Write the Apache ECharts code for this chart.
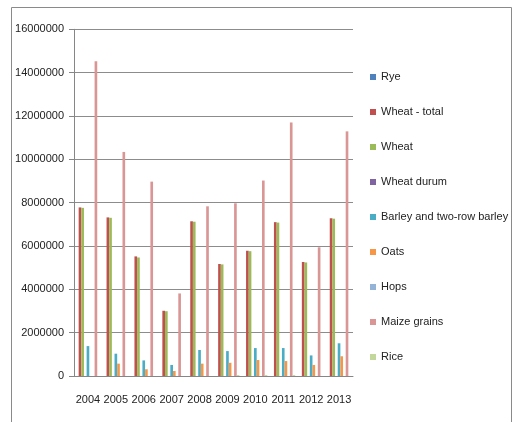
<!DOCTYPE html>
<html>
<head>
<meta charset="utf-8">
<script src="https://cdn.jsdelivr.net/npm/echarts@6/dist/echarts.min.js"></script>
<style>
html,body{margin:0;padding:0;background:#fff;}
#c{width:513px;height:422px;}
</style>
</head>
<body>
<div id="c"></div>
<script>
var years = ['2004','2005','2006','2007','2008','2009','2010','2011','2012','2013'];
var yTicks = [0,2000000,4000000,6000000,8000000,10000000,12000000,14000000,16000000];
var seriesNames = ['Rye','Wheat - total','Wheat','Wheat durum','Barley and two-row barley','Oats','Hops','Maize grains','Rice'];
var rye        = [0,0,0,0,0,0,0,0,0,0];
var wheatTotal = [7780000,7320000,5520000,3010000,7140000,5170000,5780000,7100000,5260000,7280000];
var wheat      = [7760000,7300000,5470000,2990000,7120000,5150000,5760000,7080000,5240000,7260000];
var wheatDurum = [0,0,0,0,0,0,0,0,0,0];
var barley     = [1380000,1030000,720000,510000,1200000,1150000,1290000,1290000,950000,1510000];
var oats       = [0,570000,310000,230000,570000,610000,740000,690000,510000,910000];
var hops       = [0,0,0,0,0,0,0,0,0,0];
var maize      = [14530000,10340000,8970000,3810000,7830000,7970000,9020000,11700000,5940000,11290000];
var rice       = [0,0,0,0,0,40000,40000,40000,0,0];

var colors = ['#4F81BD','#C0504D','#9BBB59','#8064A2','#4BACC6','#F79646','#95B3D7','#D99694','#C3D69B'];
var dataSets = [rye,wheatTotal,wheat,wheatDurum,barley,oats,hops,maize,rice];
var FONT = '"Liberation Sans",Arial,sans-serif';
var TS = {fontFamily:FONT,fontSize:11,color:'#222'};

var chart = echarts.init(document.getElementById('c'));
chart.setOption({
  animation:false,
  color: colors,
  graphic:[{type:'rect',shape:{x:11.5,y:7.5,width:500,height:430},style:{fill:'none',stroke:'#8a8a8a',lineWidth:1},silent:true,z:-1}],
  grid:{left:74,right:160,top:29.3,bottom:46,containLabel:false},
  legend:{
    orient:'vertical',left:365,top:65,
    itemWidth:6,itemHeight:6,itemGap:21,icon:'rect',
    textStyle:Object.assign({lineHeight:14},TS),
    data:seriesNames
  },
  xAxis:{
    type:'category',data:years,
    axisLine:{lineStyle:{color:'#868686'}},
    axisTick:{length:6,lineStyle:{color:'#868686'}},
    axisLabel:Object.assign({margin:18,interval:0},TS)
  },
  yAxis:{
    type:'value',min:0,max:16000000,interval:2000000,
    axisLine:{show:true,lineStyle:{color:'#868686'}},
    axisTick:{show:true,length:5,lineStyle:{color:'#868686'}},
    splitLine:{lineStyle:{color:'#8c8c8c'}},
    axisLabel:Object.assign({margin:10,
      formatter:function(v){return yTicks.indexOf(v)>=0?String(v):'';}},TS)
  },
  series: seriesNames.map(function(n,i){
    return {name:n,type:'bar',data:dataSets[i],barGap:'0%',barCategoryGap:'14.3%',
      itemStyle:{color:colors[i]}};
  })
});
</script>
</body>
</html>
